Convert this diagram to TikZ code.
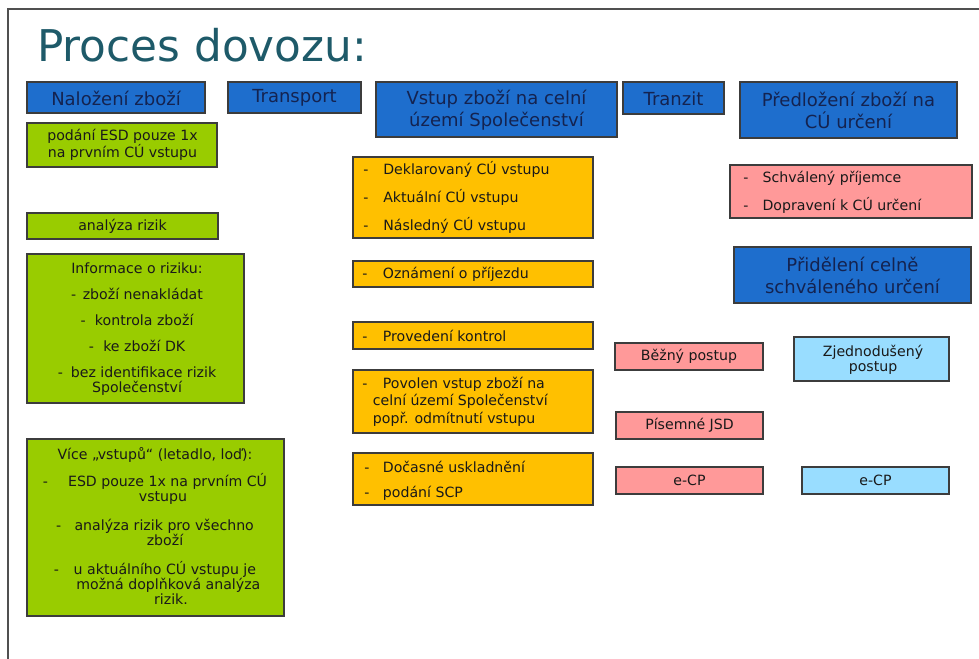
\documentclass[tikz,border=0pt]{standalone}
\usepackage{fontspec}
\setmainfont{DejaVu Sans}
\usepackage{xcolor}
\usepackage{tikz}

\definecolor{hdrblue}{RGB}{30,110,205}
\definecolor{boxgreen}{RGB}{153,204,0}
\definecolor{boxorange}{RGB}{255,192,0}
\definecolor{boxpink}{RGB}{255,153,153}
\definecolor{boxcyan}{RGB}{153,221,255}
\definecolor{titleteal}{RGB}{30,90,105}
\definecolor{hdrtext}{RGB}{20,35,80}
\definecolor{bodytext}{RGB}{25,25,25}
\definecolor{edgegray}{RGB}{60,60,60}

\begin{document}
\begin{tikzpicture}[x=0.75pt,y=0.75pt,yscale=-1,xscale=1,
  box/.style={draw=edgegray, line width=0.9pt},
  hdrbox/.style={box, fill=hdrblue},
  grnbox/.style={box, fill=boxgreen},
  orbox/.style={box, fill=boxorange},
  pinkbox/.style={box, fill=boxpink},
  cyanbox/.style={box, fill=boxcyan},
  hdrtxt/.style={inner sep=0pt, align=center, text=hdrtext, font=\fontsize{13.5}{16.5}\selectfont},
  bodytxt/.style={inner sep=0pt, text=bodytext, font=\fontsize{10.6}{11.5}\selectfont}]
\useasboundingbox (0,0) rectangle (979,659);

%slide frame
\draw [color={rgb, 255:red, 80; green, 80; blue, 80 }, line width=1.1pt] (979,9) -- (8,9) -- (8,659) ;

% Title
\node [anchor=base west, inner sep=0pt, text=titleteal, font=\fontsize{32.8}{36}\selectfont] (titulek) at (37,62) {Proces dovozu:};

%Header boxes
\draw [hdrbox] (27,82) rectangle (205,113) ;
\node [hdrtxt] (nalozeni) at (116,98) {Naložení zboží};
\draw [hdrbox] (228,82) rectangle (361,113) ;
\node [hdrtxt] (transport) at (294.5,98) {Transport};
\draw [hdrbox] (376,82) rectangle (617,137) ;
\node [hdrtxt] (vstup) at (496.5,110) {Vstup zboží na celní\\území Společenství};
\draw [hdrbox] (623,82) rectangle (724,114) ;
\node [hdrtxt] (tranzit) at (673.5,98.5) {Tranzit};
\draw [hdrbox] (740,82) rectangle (957,138) ;
\node [hdrtxt] (predlozeni) at (848.5,110.5) {Předložení zboží na\\CÚ určení};
\draw [hdrbox] (734,247) rectangle (971,303) ;
\node [hdrtxt] (prideleni) at (852.5,275.5) {Přidělení celně\\schváleného určení};

%Green boxes
\draw [grnbox] (27,123) rectangle (217,167) ;
\node [bodytxt, align=center] (esd) at (122.5,145) {podání ESD pouze 1x\\na prvním CÚ vstupu};
\draw [grnbox] (27,213) rectangle (218,239) ;
\node [bodytxt] (analyza) at (122.5,226) {analýza rizik};
\draw [grnbox] (27,254) rectangle (244,403) ;
\node [bodytxt, align=center] (informace) at (137,329) {Informace o riziku:\\[8pt]
-\hspace{5pt}zboží nenakládat\\[8pt]
-\hspace{7pt}kontrola zboží\\[8pt]
-\hspace{7pt}ke zboží DK\\[8pt]
-\hspace{6pt}bez identifikace rizik\\
Společenství};
\draw [grnbox] (27,439) rectangle (284,616) ;
\node [bodytxt, align=center] (vice) at (155,526) {Více „vstupů“ (letadlo, loď):\\[7pt]
-\hspace{15pt}ESD pouze 1x na prvním CÚ\\
\hspace*{12pt}vstupu\\[10pt]
-\hspace{10pt}analýza rizik pro všechno\\
\hspace*{15pt}zboží\\[10pt]
-\hspace{11pt}u aktuálního CÚ vstupu je\\
\hspace*{20pt}možná doplňková analýza\\
\hspace*{24pt}rizik.};

%Orange boxes
\draw [orbox] (353,157) rectangle (593,238) ;
\node [bodytxt, anchor=west, align=left] (celniurad) at (363,197.5) {\makebox[15pt][l]{-}Deklarovaný CÚ vstupu\\[8pt]
\makebox[15pt][l]{-}Aktuální CÚ vstupu\\[8pt]
\makebox[15pt][l]{-}Následný CÚ vstupu};
\draw [orbox] (353,261) rectangle (593,287) ;
\node [bodytxt, anchor=west] (oznameni) at (362,274) {\makebox[15.5pt][l]{-}Oznámení o příjezdu};
\draw [orbox] (353,322) rectangle (593,349) ;
\node [bodytxt, anchor=west] (kontrola) at (362,335.5) {\makebox[15.5pt][l]{-}Provedení kontrol};
\draw [orbox] (353,370) rectangle (593,433) ;
\node [bodytxt, anchor=west, align=left] (povolen) at (362,401.5) {\makebox[15.5pt][l]{-}Povolen vstup zboží na\\[1.5pt]
\hspace*{8pt}celní území Společenství\\[1.5pt]
\hspace*{8pt}popř. odmítnutí vstupu};
\draw [orbox] (353,453) rectangle (593,505) ;
\node [bodytxt, anchor=west, align=left] (docasne) at (364,480.5) {\makebox[14pt][l]{-}Dočasné uskladnění\\[7.5pt]
\makebox[14pt][l]{-}podání SCP};

%Pink boxes
\draw [pinkbox] (730,165) rectangle (972,218) ;
\node [bodytxt, anchor=west, align=left] (prijemce) at (743,192.5) {\makebox[14.5pt][l]{-}Schválený příjemce\\[7.5pt]
\makebox[14.5pt][l]{-}Dopravení k CÚ určení};
\draw [pinkbox] (615,343) rectangle (763,370) ;
\node [bodytxt] (bezny) at (689,356.5) {Běžný postup};
\draw [pinkbox] (616,412) rectangle (763,439) ;
\node [bodytxt] (jsd) at (689.5,425.5) {Písemné JSD};
\draw [pinkbox] (616,467) rectangle (763,494) ;
\node [bodytxt] (ecpbezny) at (689.5,480.5) {e-CP};

%Light blue boxes
\draw [cyanbox] (794,337) rectangle (949,381) ;
\node [bodytxt, align=center] (zjednoduseny) at (873,359.5) {Zjednodušený\\postup};
\draw [cyanbox] (802,467) rectangle (949,494) ;
\node [bodytxt] (ecpzjed) at (875.5,480.5) {e-CP};
\end{tikzpicture}
\end{document}
